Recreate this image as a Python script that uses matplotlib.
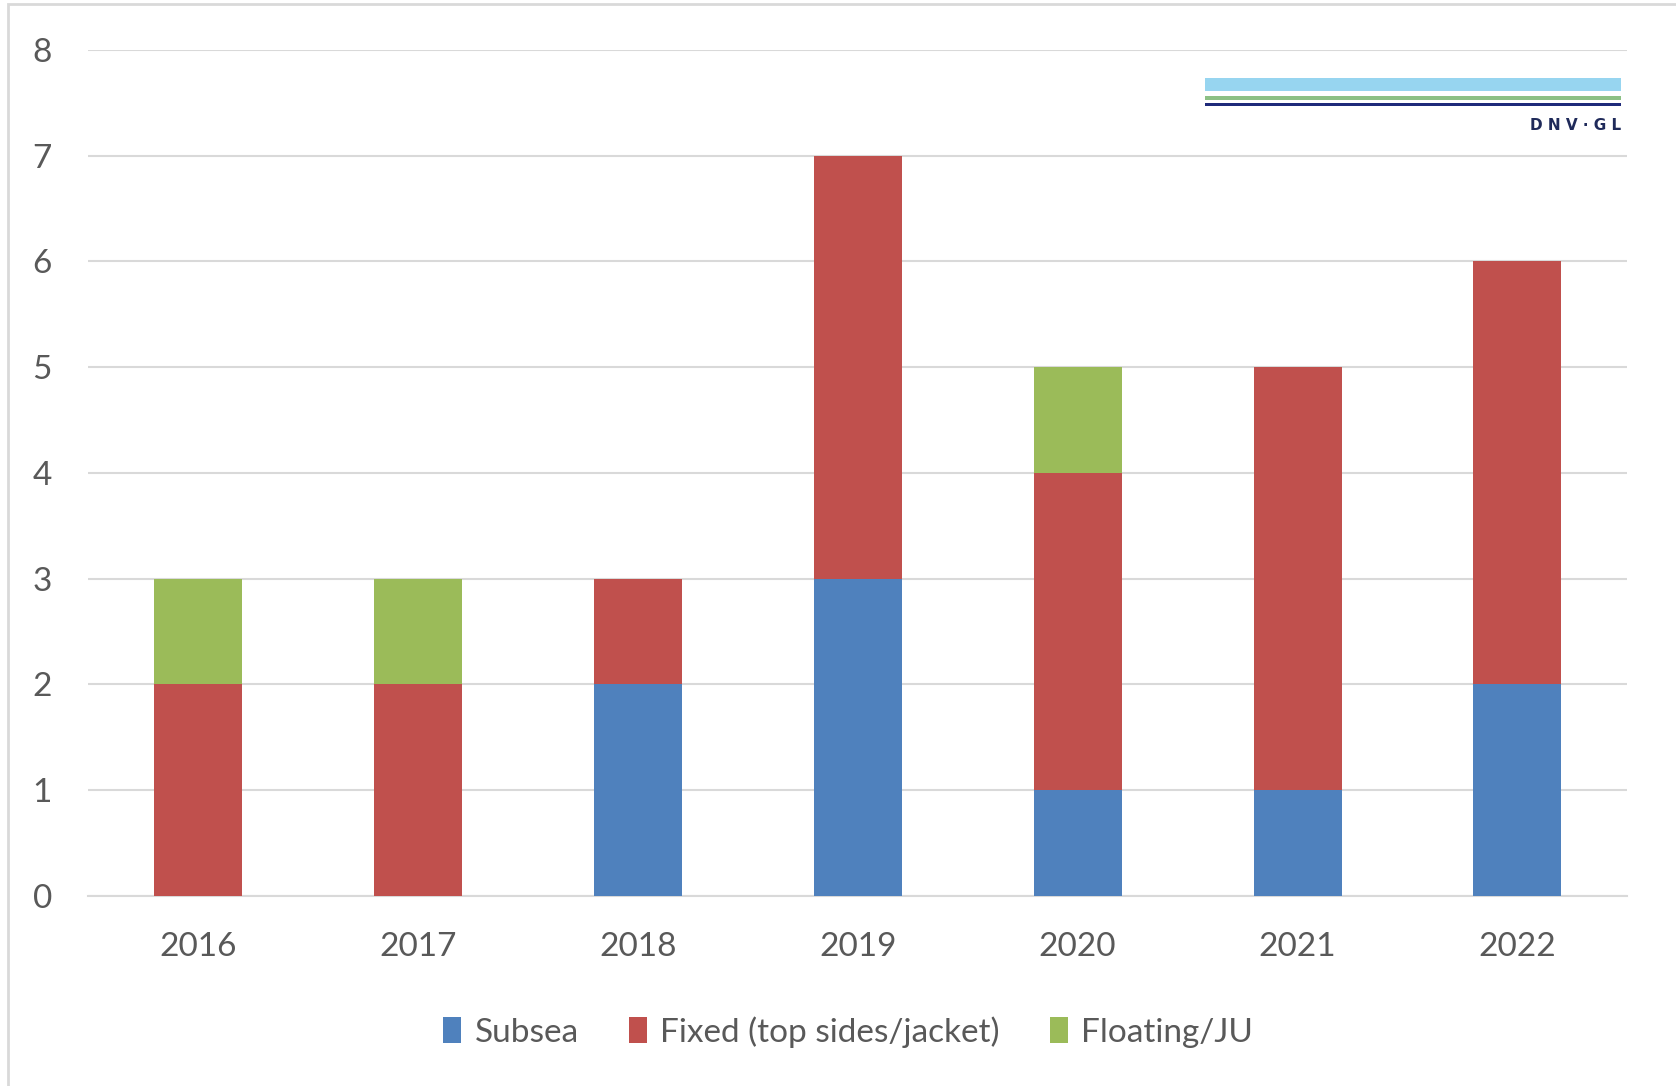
import numpy as np
import matplotlib.pyplot as plt
from matplotlib.patches import Rectangle

plt.rcParams['font.family'] = ['Lato', 'DejaVu Sans']

years = ['2016', '2017', '2018', '2019', '2020', '2021', '2022']
subsea = [0, 0, 2, 3, 1, 1, 2]
fixed = [2, 2, 1, 4, 3, 4, 4]
floating = [1, 1, 0, 0, 1, 0, 0]

c_blue = '#4F81BD'
c_red = '#C0504D'
c_green = '#9BBB59'
txt = '#595959'

fig = plt.figure(figsize=(16.76, 10.86), dpi=100)
ax = fig.add_axes([0.0525, 0.175, 0.9185, 0.779])

x = np.arange(len(years))
w = 0.4
b1 = np.array(subsea)
b2 = b1 + np.array(fixed)
ax.bar(x, subsea, w, color=c_blue, label='Subsea', zorder=3)
ax.bar(x, fixed, w, bottom=b1, color=c_red, label='Fixed (top sides/jacket)', zorder=3)
ax.bar(x, floating, w, bottom=b2, color=c_green, label='Floating/JU', zorder=3)

ax.set_xlim(-0.5, len(years) - 0.5)
ax.set_ylim(0, 8)
ax.set_yticks(range(0, 9))
ax.set_xticks(x)
ax.set_xticklabels(years)
ax.grid(axis='y', color='#D9D9D9', linewidth=1.5, zorder=0)
for s in ['top', 'right', 'left']:
    ax.spines[s].set_visible(False)
ax.spines['bottom'].set_color('#D9D9D9')
ax.spines['bottom'].set_linewidth(1.5)
ax.tick_params(axis='both', length=0, labelsize=24, labelcolor=txt)
ax.tick_params(axis='y', pad=26)
ax.tick_params(axis='x', pad=26)

leg = fig.legend(loc='center', bbox_to_anchor=(0.506, 0.05), ncol=3, frameon=False,
                 fontsize=24, handlelength=0.55, handleheight=0.85, handletextpad=0.4,
                 columnspacing=1.5)
for t in leg.get_texts():
    t.set_color(txt)

# figure border
fig.add_artist(Rectangle((0.005, -0.01), 1.1, 1.006, transform=fig.transFigure,
                         fill=False, edgecolor='#D9D9D9', linewidth=2))

# DNV GL logo
fig.add_artist(Rectangle((0.719, 0.916), 0.248, 0.012, transform=fig.transFigure,
                         color='#97D5F0', linewidth=0))
fig.add_artist(Rectangle((0.719, 0.908), 0.248, 0.0035, transform=fig.transFigure,
                         color='#8CC084', linewidth=0))
fig.add_artist(Rectangle((0.719, 0.902), 0.248, 0.0035, transform=fig.transFigure,
                         color='#1F2A7A', linewidth=0))
fig.text(0.967, 0.884, 'D N V · G L', ha='right', va='center', fontsize=11,
         color='#1F2A5A', fontweight='bold', family='DejaVu Sans')

fig.savefig('out.png', dpi=100)
